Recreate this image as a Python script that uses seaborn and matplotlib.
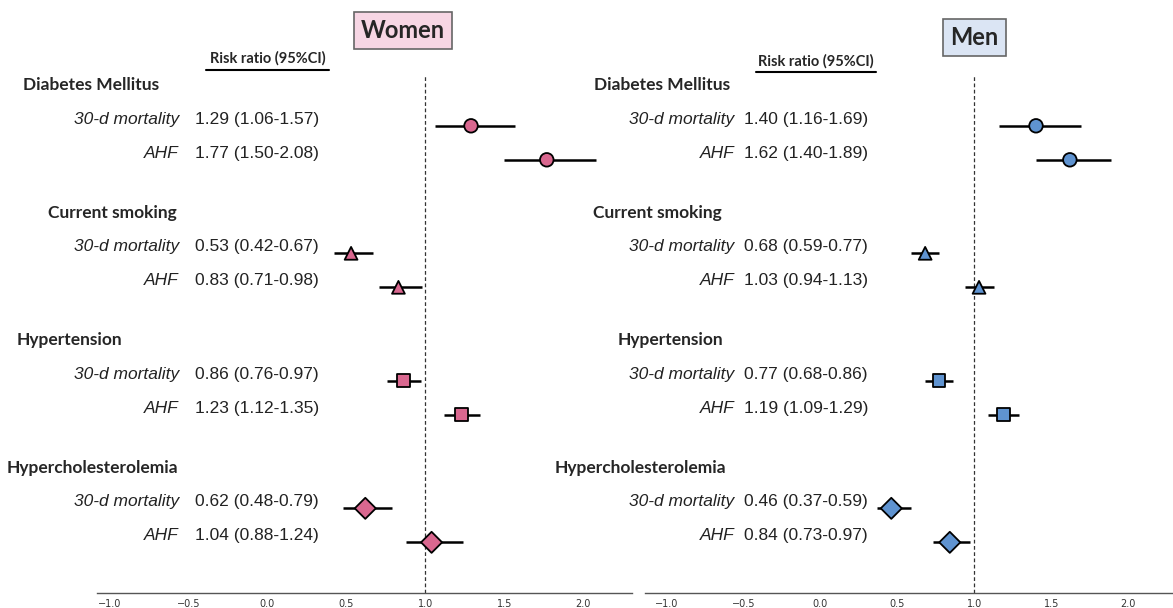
import numpy as np
import pandas as pd
import seaborn as sns
import matplotlib

matplotlib.use("Agg")
import matplotlib.pyplot as plt

# data
factors = ["Diabetes Mellitus", "Current smoking", "Hypertension", "Hypercholesterolemia"]
outcomes = ["30-d mortality", "AHF"]

women_rr = [1.29, 1.77, 0.53, 0.83, 0.86, 1.23, 0.62, 1.04]
women_lo = [1.06, 1.50, 0.42, 0.71, 0.76, 1.12, 0.48, 0.88]
women_hi = [1.57, 2.08, 0.67, 0.98, 0.97, 1.35, 0.79, 1.24]

men_rr = [1.40, 1.62, 0.68, 1.03, 0.77, 1.19, 0.46, 0.84]
men_lo = [1.16, 1.40, 0.59, 0.94, 0.68, 1.09, 0.37, 0.73]
men_hi = [1.69, 1.89, 0.77, 1.13, 0.86, 1.29, 0.59, 0.97]

xticks = [-1.0, -0.5, 0.0, 0.5, 1.0, 1.5, 2.0]

sns.set_style("white")
plt.rcParams['font.family'] = ['Liberation Sans', 'DejaVu Sans']

markers = {"Diabetes Mellitus": "o", "Current smoking": "^",
           "Hypertension": "s", "Hypercholesterolemia": "D"}
msize = {"Diabetes Mellitus": 95, "Current smoking": 85,
         "Hypertension": 85, "Hypercholesterolemia": 115}

GROUP_GAP = 3.75


def make_df(rr, lo, hi):
    rows = []
    for i, f in enumerate(factors):
        for j, o in enumerate(outcomes):
            k = i * 2 + j
            rows.append({"factor": f, "outcome": o, "rr": rr[k], "lo": lo[k], "hi": hi[k],
                         "y": i * GROUP_GAP + j})
    return pd.DataFrame(rows)


def panel(ax, df, color, xlim, header_x, label_x, value_x, title, title_face, title_pos, rr_pos):
    ax.axvline(1.0, ymin=0, ymax=(13.74 + 1.5) / (13.74 + 3.7), color="#333333",
               lw=0.9, ls=(0, (3, 2)), zorder=1)
    ax.hlines(df["y"], df["lo"], df["hi"], color="black", lw=1.8, zorder=2)
    sns.scatterplot(data=df, x="rr", y="y", style="factor", markers=markers,
                    size="factor", sizes=msize, color=color, edgecolor="black",
                    linewidth=1.3, legend=False, ax=ax, zorder=3)
    for i, f in enumerate(factors):
        sub = df[df["factor"] == f]
        y0 = sub["y"].min()
        ax.text(header_x[i], y0 - 1.2, f, fontsize=12.5, fontweight="bold",
                ha="left", va="center", family=["Lato", "DejaVu Sans"])
        for _, r in sub.iterrows():
            ax.text(label_x, r["y"] - 0.2, r["outcome"], fontsize=12.5, style="italic",
                    ha="right", va="center", color="#222222")
            ax.text(value_x, r["y"] - 0.2, f"{r['rr']:.2f} ({r['lo']:.2f}-{r['hi']:.2f})",
                    fontsize=12.5, ha="left", va="center", color="#222222")
    ax.set_xlim(*xlim)
    ax.set_ylim(13.74, -3.7)
    ax.set_xticks(xticks)
    ax.set_xticklabels([f"{t:.1f}".replace("-", "\u2212") for t in xticks],
                       fontsize=7, color="#333333", family="DejaVu Sans")
    ax.tick_params(axis="x", length=2, pad=2, color="#555555")
    ax.set_yticks([])
    ax.set_xlabel("")
    ax.set_ylabel("")
    for s in ["left", "top", "right"]:
        ax.spines[s].set_visible(False)
    ax.spines["bottom"].set_color("#555555")
    ax.spines["bottom"].set_linewidth(1.0)
    ax.text(rr_pos[0], rr_pos[1], "Risk ratio (95%CI)", fontsize=10.5, fontweight="bold",
            ha="center", va="center", family=["Lato", "DejaVu Sans"])
    ax.plot([rr_pos[0] - 0.39, rr_pos[0] + 0.39], [rr_pos[1] + 0.33, rr_pos[1] + 0.33],
            color="black", lw=1.5, clip_on=False)
    ax.text(title_pos[0], title_pos[1], title, fontsize=17, fontweight="bold",
            ha="center", va="center", family=["Lato", "DejaVu Sans"],
            bbox=dict(boxstyle="square,pad=0.3", facecolor=title_face, edgecolor="#666666", lw=1.2))


fig = plt.figure(figsize=(11.73, 6.08), dpi=100)
ax1 = fig.add_axes([97 / 1173, 15 / 608, 535 / 1173, 593 / 608])
ax2 = fig.add_axes([645 / 1173, 15 / 608, 528 / 1173, 593 / 608])

women = make_df(women_rr, women_lo, women_hi)
men = make_df(men_rr, men_lo, men_hi)

panel(ax1, women, "#D9678F", (-1.08, 2.31),
      [-1.55, -1.39, -1.59, -1.65], -0.56, -0.46,
      "Women", "#F7D6E4", (0.86, -2.8), (0.0, -1.98))
panel(ax2, men, "#5F93D0", (-1.14, 2.29),
      [-1.47, -1.48, -1.32, -1.73], -0.56, -0.50,
      "Men", "#DBE5F4", (1.0, -2.6), (-0.03, -1.9))

fig.savefig("out.png", dpi=100)
